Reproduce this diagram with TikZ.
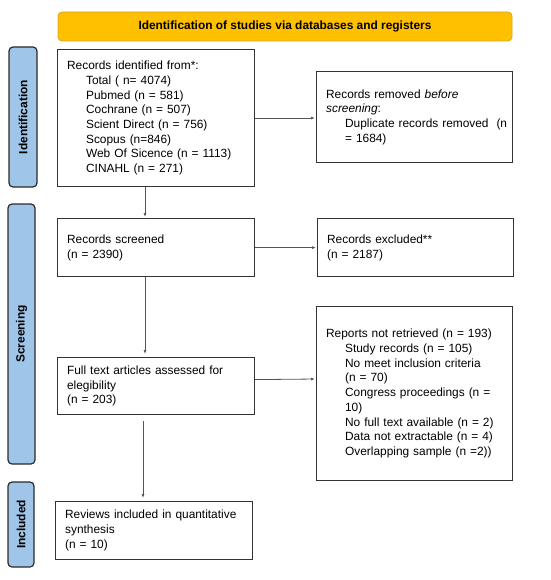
\documentclass[tikz,border=0pt]{standalone}
\usepackage{fontspec}
\setmainfont{Liberation Sans}
\usetikzlibrary{calc,arrows.meta}
\definecolor{bannerfill}{HTML}{FFC000}
\definecolor{bannerdraw}{HTML}{D8A52A}
\definecolor{sidefill}{HTML}{9FC5E8}
\definecolor{sidedraw}{HTML}{2B2B2B}
\definecolor{boxdraw}{HTML}{333333}
\definecolor{linkcol}{HTML}{555555}
\newcommand{\ind}{\hspace*{19pt}}
\begin{document}
\begin{tikzpicture}[x=1pt,y=-1pt,
  every node/.style={font=\fontsize{11.9}{14.7}\selectfont},
  flowbox/.style={draw=boxdraw,line width=1.2pt,rectangle,anchor=north west,
    align=left,inner xsep=9.5pt,inner ysep=0pt},
  sidebar/.style={draw=sidedraw,fill=sidefill,line width=1.2pt,rounded corners=4pt},
  sidelabel/.style={rotate=90,font=\bfseries\fontsize{11.9}{14.7}\selectfont},
  arr/.style={draw=linkcol,line width=0.8pt,-{Latex[length=4pt,width=3pt]}}]
\useasboundingbox (0,0) rectangle (550,580);
% banner
\draw[draw=bannerdraw,fill=bannerfill,line width=0.8pt,rounded corners=4pt] (58,12) rectangle (512,41);
\node[font=\bfseries\fontsize{11.9}{14.7}\selectfont] (banner) at (285,26.5) {Identification of studies via databases and registers};
% side bars
\draw[sidebar] (9,47) rectangle (37,187);
\node[sidelabel] (sideid) at (23,117) {Identification};
\draw[sidebar] (8,204) rectangle (35,464);
\node[sidelabel] (sidescr) at (21.5,334) {Screening};
\draw[sidebar] (8,482) rectangle (34,567);
\node[sidelabel] (sideinc) at (21,524.5) {Included};
% boxes
\node[flowbox,minimum width=197pt,minimum height=137pt,text width=178pt] (ident) at (57,49)
 {Records identified from*:\\
  \ind Total ( n= 4074)\\
  \ind Pubmed (n = 581)\\
  \ind Cochrane (n = 507)\\
  \ind Scient Direct (n = 756)\\
  \ind Scopus (n=846)\\
  \ind Web Of Sicence (n = 1113)\\
  \ind CINAHL (n = 271)};
\node[flowbox,minimum width=196pt,minimum height=91pt,text width=177pt] (removed) at (316,71)
 {Records removed \textit{before}\\
  \textit{screening}:\\
  \ind\mbox{Duplicate records removed\ \ (n}\\
  \ind = 1684)\\[13pt]};
\node[flowbox,minimum width=197pt,minimum height=58pt,text width=178pt] (screened) at (57,218)
 {Records screened\\(n = 2390)};
\node[flowbox,minimum width=196pt,minimum height=58pt,text width=177pt] (excluded) at (317,218)
 {Records excluded**\\(n = 2187)};
\node[flowbox,minimum width=197pt,minimum height=57pt,text width=178pt] (fulltext) at (57,357)
 {Full text articles assessed for\\elegibility\\(n = 203)};
\node[flowbox,minimum width=196pt,minimum height=174pt,text width=177pt] (reports) at (316,306)
 {\mbox{Reports not retrieved (n = 193)}\\
  \ind Study records (n = 105)\\
  \ind No meet inclusion criteria\\
  \ind (n = 70)\\
  \ind\mbox{Congress proceedings (n =}\\
  \ind 10)\\
  \ind\mbox{No full text available (n = 2)}\\
  \ind\mbox{Data not extractable (n = 4)}\\
  \ind\mbox{Overlapping sample (n =2))}\\[8pt]};
\node[flowbox,minimum width=197pt,minimum height=58pt,text width=178pt] (reviews) at (55,501)
 {\mbox{Reviews included in quantitative}\\synthesis\\(n = 10)};
% connectors
\draw[arr,shorten >=1pt] (ident.east |- 0,118) -- (removed.west |- 0,118);
\draw[arr,shorten >=1pt] (screened.east |- excluded.west) -- (excluded.west);
\draw[arr,shorten >=1pt] ([yshift=6.5pt]fulltext.east) -- (reports.west |- 0,379);
\draw[arr,shorten >=1pt] (ident.south -| 145,0) -- (screened.north -| 145,0);
\draw[arr,shorten >=3pt] (screened.south -| 145,0) -- (fulltext.north -| 145,0);
\draw[arr,shorten <=6pt,shorten >=3pt] (fulltext.south -| 143,0) -- (reviews.north -| 143,0);
\end{tikzpicture}
\end{document}
